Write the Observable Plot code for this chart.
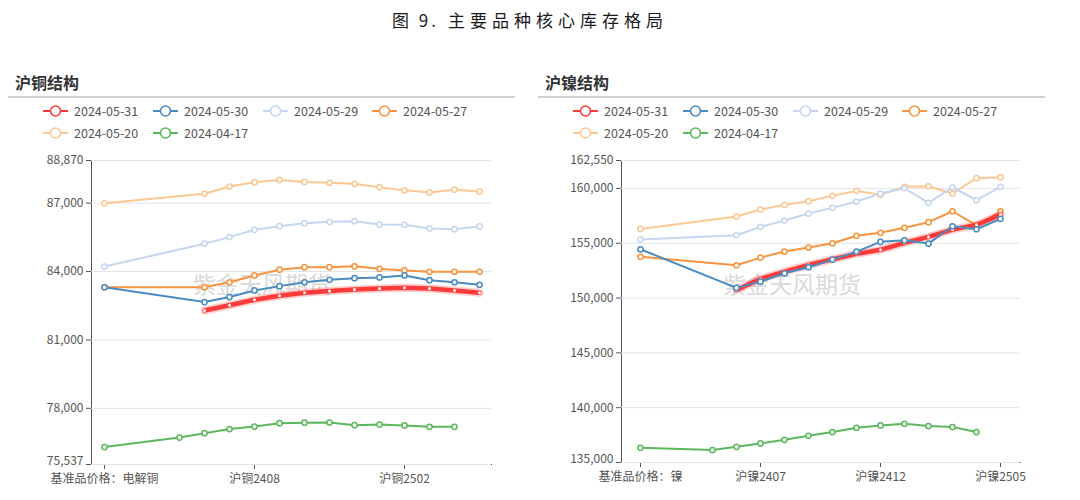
<!DOCTYPE html>
<html><head><meta charset="utf-8">
<script src="https://cdn.jsdelivr.net/npm/d3@7"></script>
<script src="https://cdn.jsdelivr.net/npm/@observablehq/plot@0.6"></script>
<style>
body{margin:0;background:#fff;font-family:"Noto Sans CJK SC",sans-serif;}
#page{position:relative;width:1080px;height:500px;overflow:hidden;}
.abs{position:absolute;}
.title{top:7px;font-size:17px;color:#1a1a1a;white-space:nowrap;}
.sub{font-size:16px;font-weight:bold;color:#333;}
.sep{height:2px;background:#d0d0d0;}
.leg{font-size:12.5px;color:#555;display:flex;align-items:center;white-space:nowrap;}
.leg svg{margin-right:6px;}
.wm{font-size:23px;color:#d9d9d9;letter-spacing:0px;}
.chart{top:140px;}
</style></head>
<body><div id="page">
<div class="abs title" style="left:392px;letter-spacing:3px;">图 9.</div>
<div class="abs title" style="left:448px;letter-spacing:5px;">主要品种核心库存格局</div>
</div>
<script>
// ---- data ----
const seriesNames = ["2024-05-31","2024-05-30","2024-05-29","2024-05-27","2024-05-20","2024-04-17"];
const seriesColors = ["#ff3a3a","#4a8bc2","#c5d7ef","#f7943e","#fdc794","#5cb85c"];
const cuCategories = ["基准品价格：电解铜","沪铜2403","沪铜2404","沪铜2405","沪铜2406","沪铜2407","沪铜2408","沪铜2409","沪铜2410","沪铜2411","沪铜2412","沪铜2501","沪铜2502","沪铜2503","沪铜2504","沪铜2505"];
const niCategories = ["基准品价格：镍","沪镍2403","沪镍2404","沪镍2405","沪镍2406","沪镍2407","沪镍2408","沪镍2409","沪镍2410","沪镍2411","沪镍2412","沪镍2501","沪镍2502","沪镍2503","沪镍2504","沪镍2505"];
const cuTickLabels = ["基准品价格：电解铜","沪铜2408","沪铜2502"];
const niTickLabels = ["基准品价格：镍","沪镍2407","沪镍2412","沪镍2505"];
const cuYTicks = [75537,78000,81000,84000,87000,88870];
const niYTicks = [135000,140000,145000,150000,155000,160000,162550];

const cu_0531 = [null,null,null,null,82290,82520,82760,82940,83070,83150,83210,83260,83290,83260,83170,83070];
const cu_0530 = [83310,null,null,null,82660,82880,83170,83360,83530,83640,83710,83740,83830,83620,83530,83420];
const cu_0529 = [84220,null,null,null,85220,85510,85830,85990,86120,86180,86210,86060,86050,85890,85860,85980];
const cu_0527 = [83310,null,null,null,83310,83530,83830,84080,84190,84190,84230,84120,84050,83990,83990,83990];
const cu_0520 = [86990,null,null,null,87410,87730,87920,88020,87930,87890,87850,87700,87560,87470,87590,87510];
const cu_0417 = [76300,null,null,76720,76910,77090,77200,77350,77370,77380,77260,77290,77250,77190,77190,null];

const ni_0531 = [null,null,null,null,150740,151750,152420,153030,153540,154030,154400,155040,155580,156250,156680,157590];
const ni_0530 = [154450,null,null,null,150930,151500,152260,152810,153510,154240,155130,155270,154970,156550,156280,157230];
const ni_0529 = [155340,null,null,null,155730,156500,157070,157710,158230,158810,159540,160020,158690,160110,158930,160150];
const ni_0527 = [153760,null,null,null,152990,153690,154240,154610,155000,155680,155950,156410,156920,157920,156640,157920];
const ni_0520 = [156310,null,null,null,157440,158080,158510,158840,159330,159780,159420,160150,160200,159540,160940,161030];
const ni_0417 = [136340,null,null,136130,136430,136740,137070,137440,137780,138170,138380,138530,138320,138230,137780,null];

const page = document.getElementById("page");
function addDiv(cls, left, top, html, extra) {
  const d = document.createElement("div");
  d.className = "abs " + cls;
  d.style.left = left + "px"; d.style.top = top + "px";
  if (extra) Object.assign(d.style, extra);
  d.innerHTML = html;
  page.appendChild(d);
  return d;
}
function legendIcon(color) {
  return `<svg width="25" height="14"><line x1="0" y1="7" x2="25" y2="7" stroke="${color}" stroke-width="2"/><circle cx="12.5" cy="7" r="5" fill="#fff" stroke="${color}" stroke-width="1.6"/></svg>`;
}

function panel(offset, subtitle, cats, valuesList, yDomain, yTicks, xTicks, svgWidth, marginRight, marginBottom) {
  addDiv("sub", 15 + offset, 70, subtitle);
  addDiv("sep", 8 + offset, 96, "", {width: "507px"});
  const lefts = [43, 153, 263, 372, 43, 153];
  const tops = [101, 101, 101, 101, 123, 123];
  seriesNames.forEach((n, i) => {
    addDiv("leg", lefts[i] + offset, tops[i], legendIcon(seriesColors[i]) + n);
  });
  addDiv("wm", 193 + offset, 266, "紫金天风期货");

  const fmt = d3.format(",");
  const rows = valuesList.map((vals, si) =>
    vals.map((v, i) => ({cat: cats[i], v, s: si})).filter(d => d.v != null));
  const order = [4, 2, 5, 3, 0, 1];
  const marks = [
    Plot.ruleY(yTicks, {stroke: "#e4e4e4", strokeWidth: 1}),
    Plot.text([yTicks[0]], {y: d => d, frameAnchor: "left", dx: -8, dy: -3, textAnchor: "end", text: d => fmt(d)})
  ];
  for (const si of order) {
    const c = seriesColors[si];
    if (si === 0) {
      marks.push(Plot.line(rows[si], {x: "cat", y: "v", stroke: c, strokeWidth: 8, strokeOpacity: 0.25}));
      marks.push(Plot.line(rows[si], {x: "cat", y: "v", stroke: c, strokeWidth: 4.5}));
      marks.push(Plot.dot(rows[si], {x: "cat", y: "v", r: 1.5, fill: "#fff"}));
    } else {
      marks.push(Plot.line(rows[si], {x: "cat", y: "v", stroke: c, strokeWidth: 2}));
      marks.push(Plot.dot(rows[si], {x: "cat", y: "v", r: 2.6, fill: "#fff", stroke: c, strokeWidth: 1.5}));
    }
  }
  const chart = Plot.plot({
    width: svgWidth, height: 350,
    marginLeft: 91, marginRight: marginRight, marginTop: 20, marginBottom: marginBottom,
    style: {fontFamily: '"Noto Sans CJK SC", sans-serif', fontSize: "12px", color: "#555", background: "transparent", overflow: "visible"},
    x: {type: "point", domain: cats, padding: 0.5, ticks: xTicks, tickSize: 5, tickPadding: 5, label: null, line: true},
    y: {domain: yDomain, ticks: yTicks, tickFormat: d => d === yTicks[0] ? "" : fmt(d), tickSize: 5, tickPadding: 3, label: null, line: true},
    marks
  });
  const holder = addDiv("chart", offset, 140, "");
  holder.appendChild(chart);
}

panel(0, "沪铜结构", cuCategories, [cu_0531, cu_0530, cu_0529, cu_0527, cu_0520, cu_0417],
  [75537, 88870], cuYTicks, cuTickLabels, 520, 29, 26);
panel(530, "沪镍结构", niCategories, [ni_0531, ni_0530, ni_0529, ni_0527, ni_0520, ni_0417],
  [135000, 162550], niYTicks, niTickLabels, 550, 60.6, 28);
</script>
</body></html>
